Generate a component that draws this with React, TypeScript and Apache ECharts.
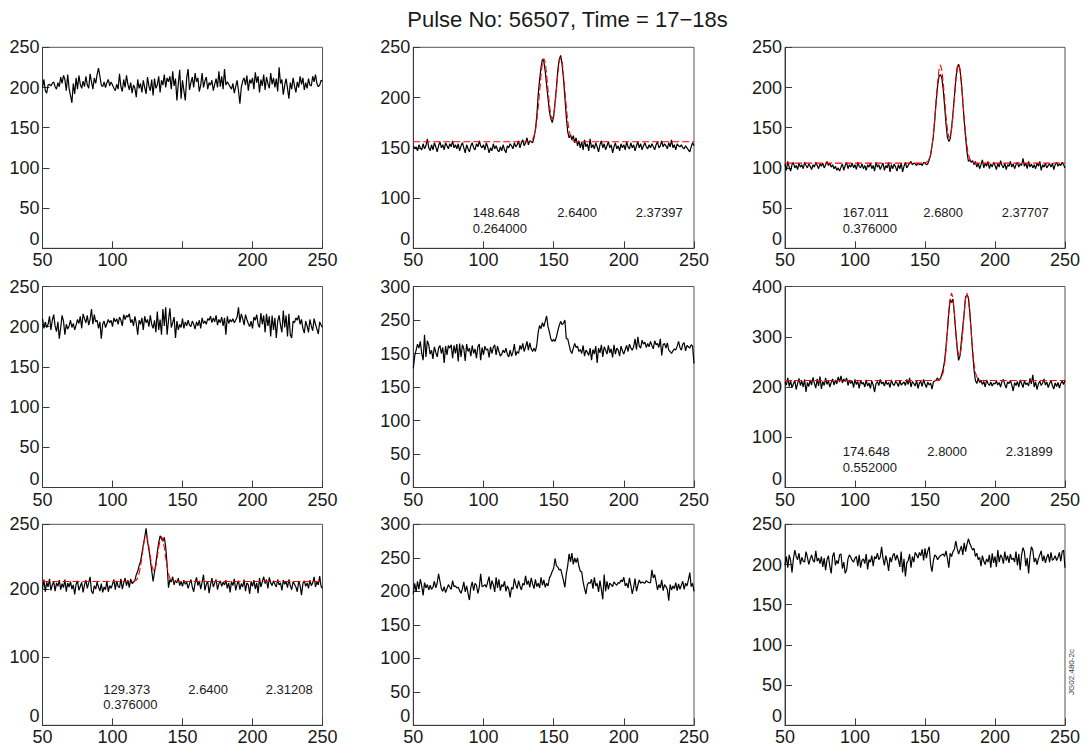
import React, { useEffect, useRef } from 'react';
import * as echarts from 'echarts';

const X_START = 50; // first channel of every trace (one value per channel)

const TITLE = 'Pulse No: 56507, Time = 17\u221218s';

// Row 1, col 1
const traceA = [
  200, 210, 196, 193, 203, 204, 202, 205, 207, 201,
  198, 206, 201, 213, 205, 215, 210, 196, 216, 199,
  190, 181, 205, 192, 212, 198, 215, 204, 199, 208,
  201, 214, 203, 199, 217, 207, 198, 212, 205, 216,
  224, 214, 203, 201, 207, 200, 206, 210, 202, 207,
  203, 199, 196, 204, 198, 217, 201, 195, 210, 200,
  215, 204, 197, 206, 193, 203, 199, 188, 210, 199,
  205, 194, 209, 200, 192, 213, 202, 196, 210, 190,
  211, 199, 203, 214, 194, 209, 203, 216, 200, 212,
  207, 214, 198, 220, 202, 211, 184, 205, 222, 186,
  209, 196, 184, 212, 223, 197, 206, 213, 200, 218,
  207, 212, 195, 203, 218, 200, 208, 213, 198, 206,
  203, 209, 196, 204, 211, 200, 220, 201, 214, 198,
  223, 203, 207, 204, 201, 198, 205, 193, 201, 209,
  196, 180, 200, 208, 212, 203, 215, 196, 210, 205,
  212, 198, 219, 206, 214, 194, 210, 202, 216, 197,
  213, 205, 199, 218, 204, 212, 200, 211, 195, 225,
  205, 210, 191, 203, 211, 199, 186, 206, 198, 212,
  202, 194, 207, 200, 214, 204, 212, 197, 206, 199,
  211, 203, 202, 214, 207, 216, 205, 201, 203, 209,
  208,
];

// Row 1, col 2
const traceB = [
  152, 149, 151, 147, 153, 150, 148, 154, 149, 152,
  159, 150, 147, 153, 148, 155, 151, 146, 152, 156,
  150, 153, 148, 155, 152, 149, 154, 151, 157, 150,
  153, 149, 154, 147, 152, 155, 150, 145, 153, 149,
  146, 152, 155, 150, 148, 154, 151, 157, 152, 150,
  153, 148, 155, 151, 145, 150, 147, 154, 149, 152,
  148, 146, 151, 147, 153, 148, 145, 152, 150, 154,
  152, 149, 155, 151, 153, 157, 150, 155, 158, 152,
  155, 160, 153, 157, 156, 155, 160, 168, 182, 203,
  218, 230, 238, 236, 226, 212, 199, 186, 179, 175,
  181, 195, 210, 228, 238, 242, 233, 219, 200, 181,
  166, 160, 163, 158, 162, 155, 160, 152, 157, 150,
  156, 148, 158, 151, 154, 147, 159, 150, 153, 149,
  155, 151, 146, 153, 157, 150, 154, 148, 152, 156,
  150, 153, 145, 151, 155, 149, 152, 147, 154, 150,
  153, 148, 156, 151, 149, 155, 150, 153, 147, 152,
  156, 150, 154, 148, 152, 155, 151, 149, 153, 150,
  154, 151, 148, 153, 156, 150, 152, 157, 151, 154,
  152, 149, 155, 151, 158, 150, 153, 148, 154, 152,
  151, 153, 150, 149, 152, 150, 148, 146, 151, 155,
  152,
];
const fitBx = [50, 133, 134, 135, 136, 137, 138, 139, 140, 141, 142, 143, 144, 145, 146, 147, 148, 149, 150, 151, 152, 153, 154, 155, 156, 157, 158, 159, 160, 161, 162, 163, 164, 165, 250];
const fitBy = [156, 156, 157, 158, 162, 167, 177, 190, 206, 222, 235, 239, 235, 223, 207, 193, 182, 179, 182, 193, 208, 224, 236, 240, 236, 223, 207, 191, 177, 167, 162, 158, 157, 156, 156];
const notesB = ['148.648', '2.6400', '2.37397', '0.264000'];

// Row 1, col 3
const traceC = [
  105, 97, 108, 101, 96, 104, 107, 100, 103, 98,
  106, 101, 104, 99, 107, 103, 100, 105, 102, 98,
  104, 101, 107, 103, 99, 105, 102, 106, 100, 104,
  108, 103, 106, 101, 104, 99, 102, 97, 100, 96,
  101, 105, 97, 103, 107, 99, 104, 101, 106, 100,
  104, 98, 107, 102, 100, 105, 99, 103, 97, 104,
  101, 106, 99, 103, 96, 107, 101, 104, 98, 102,
  106, 97, 103, 100, 107, 95, 104, 99, 105, 101,
  96, 104, 99, 106, 95, 102, 107, 100, 103, 106,
  108, 104, 106, 105, 103, 106, 104, 105, 103, 107,
  106, 104, 105, 110, 116, 127, 140, 160, 183, 202,
  214, 216, 212, 198, 177, 155, 138, 133, 136, 150,
  168, 189, 210, 225, 229, 222, 205, 182, 158, 138,
  120, 108, 110, 107, 109, 104, 108, 101, 106, 99,
  104, 110, 100, 106, 102, 108, 99, 105, 101, 107,
  103, 98, 106, 101, 109, 103, 100, 106, 98, 104,
  102, 108, 101, 105, 99, 104, 107, 101, 105, 103,
  112, 102, 106, 99, 108, 101, 105, 100, 104, 99,
  106, 102, 108, 97, 104, 101, 106, 100, 103, 105,
  101, 106, 98, 104, 107, 102, 105, 103, 107, 104,
  100,
];
const fitCx = [50, 150, 151, 152, 153, 154, 155, 156, 157, 158, 159, 160, 161, 162, 163, 164, 165, 166, 167, 168, 169, 170, 171, 172, 173, 174, 175, 176, 177, 178, 179, 180, 181, 182, 183, 184, 185, 250];
const fitCy = [106, 106, 107, 108, 111, 117, 127, 142, 162, 185, 206, 222, 228, 222, 207, 186, 164, 148, 138, 138, 148, 165, 186, 208, 223, 229, 223, 207, 185, 162, 142, 127, 117, 111, 108, 107, 106, 106];
const notesC = ['167.011', '2.6800', '2.37707', '0.376000'];

// Row 2, col 1
const traceD = [
  210, 198, 206, 199, 203, 213, 196, 208, 215, 201,
  194, 206, 185, 199, 214, 207, 190, 203, 197, 201,
  208, 199, 204, 196, 202, 209, 204, 213, 198, 216,
  210, 205, 214, 202, 209, 222, 203, 215, 206, 208,
  198, 206, 185, 203, 207, 199, 204, 209, 205, 208,
  200, 211, 206, 210, 203, 212, 208, 201, 215, 209,
  214, 212, 216, 205, 209, 201, 213, 204, 190, 208,
  203, 211, 196, 213, 205, 209, 200, 214, 203, 198,
  208, 193, 219, 196, 209, 190, 222, 201, 224, 190,
  208, 223, 199, 205, 212, 186, 207, 196, 203, 199,
  210, 198, 206, 201, 208, 202, 200, 207, 203, 197,
  206, 201, 208, 198, 211, 204, 207, 203, 210, 208,
  213, 205, 211, 206, 214, 202, 209, 205, 212, 201,
  211, 190, 213, 204, 209, 206, 210, 205, 208, 212,
  224, 205, 216, 210, 202, 215, 209, 204, 200, 207,
  198, 212, 208, 215, 203, 199, 217, 203, 214, 193,
  216, 201, 213, 188, 214, 196, 211, 186, 207, 214,
  202, 193, 220, 199, 214, 188, 216, 190, 186, 207,
  205, 211, 208, 214, 203, 209, 198, 192, 207, 201,
  193, 209, 201, 195, 210, 203, 197, 191, 206, 202,
  199,
];

// Row 2, col 2
const traceE = [
  178, 196, 205, 214, 208, 218, 200, 190, 228, 195,
  219, 213, 199, 205, 192, 210, 202, 195, 208, 212,
  200, 209, 186, 211, 198, 212, 208, 213, 193, 212,
  200, 214, 188, 215, 195, 213, 207, 189, 214, 203,
  208, 196, 212, 200, 207, 193, 210, 214, 190, 209,
  198, 211, 205, 207, 194, 210, 200, 209, 213, 198,
  211, 203, 196, 199, 205, 201, 208, 199, 195, 205,
  196, 202, 214, 197, 203, 200, 212, 206, 215, 203,
  210, 218, 205, 216, 207, 203, 208, 203, 213, 232,
  242, 237, 246, 240, 248, 256, 240, 232, 222, 218,
  221, 218, 225, 234, 242, 248, 243, 245, 250, 222,
  222, 213, 204, 200, 208, 215, 209, 211, 203, 206,
  200, 212, 196, 205, 202, 197, 208, 190, 206, 199,
  211, 186, 208, 201, 213, 195, 210, 205, 199, 212,
  201, 207, 194, 213, 199, 208, 205, 196, 211, 204,
  199, 206, 212, 203, 214, 208, 205, 210, 222, 206,
  225, 211, 208, 220, 214, 217, 209, 215, 210, 218,
  212, 207, 219, 213, 215, 209, 222, 197, 213, 215,
  208, 216, 205, 203, 200, 204, 207, 205, 211, 218,
  209, 205, 214, 216, 204, 212, 210, 208, 213, 211,
  185,
];

// Row 2, col 3
const traceF = [
  210, 204, 218, 201, 212, 199, 206, 213, 195, 207,
  217, 203, 212, 200, 215, 190, 209, 201, 214, 204,
  219, 207, 198, 216, 202, 221, 196, 211, 203, 218,
  205, 213, 200, 209, 216, 204, 214, 206, 220, 210,
  222, 208, 216, 211, 218, 203, 214, 207, 212, 199,
  215, 205, 211, 197, 213, 206, 209, 200, 214, 202,
  208, 197, 212, 204, 190, 207, 211, 203, 215, 206,
  210, 202, 212, 205, 209, 199, 214, 206, 203, 211,
  208, 201, 213, 204, 207, 210, 203, 215, 205, 218,
  200, 211, 207, 202, 213, 197, 208, 211, 201, 215,
  206, 199, 210, 204, 208, 196, 210, 212, 214, 218,
  213, 217, 225, 236, 252, 280, 312, 350, 374, 368,
  375, 345, 308, 276, 253, 262, 292, 320, 348, 380,
  383, 378, 350, 312, 270, 235, 213, 207, 218, 209,
  213, 205, 211, 200, 214, 207, 203, 210, 202, 208,
  206, 212, 204, 209, 200, 211, 215, 205, 198, 210,
  207, 213, 204, 192, 209, 203, 211, 200, 214, 207,
  199, 212, 205, 208, 202, 217, 206, 224, 200, 210,
  195, 206, 212, 203, 208, 216, 204, 210, 199, 207,
  213, 203, 196, 208, 201, 209, 198, 207, 212, 205,
  214,
];
const fitFx = [50, 159, 160, 161, 162, 163, 164, 165, 166, 167, 168, 169, 170, 171, 172, 173, 174, 175, 176, 177, 178, 179, 180, 181, 182, 183, 184, 185, 186, 187, 188, 189, 190, 250];
const fitFy = [213, 213, 214, 216, 220, 229, 246, 273, 309, 347, 376, 387, 376, 347, 311, 280, 262, 262, 280, 311, 347, 376, 387, 376, 347, 309, 273, 246, 229, 220, 216, 214, 213, 213];
const notesF = ['174.648', '2.8000', '2.31899', '0.552000'];

// Row 3, col 1
const traceG = [
  200, 214, 196, 210, 203, 215, 198, 206, 211, 197,
  209, 204, 213, 199, 208, 202, 214, 196, 209, 203,
  211, 200, 206, 192, 207, 212, 198, 204, 210, 195,
  206, 213, 201, 209, 218, 197, 193, 205, 200, 210,
  203, 197, 208, 195, 203, 199, 212, 196, 205, 201,
  207, 214, 199, 212, 204, 202, 215, 200, 209, 216,
  205, 213, 202, 215, 208, 210, 213, 221, 226, 234,
  240, 252, 265, 276, 289, 270, 258, 243, 227, 211,
  225, 238, 254, 268, 278, 274, 270, 276, 262, 236,
  202, 214, 210, 218, 206, 213, 209, 216, 205, 211,
  204, 213, 207, 210, 201, 208, 214, 203, 196, 209,
  217, 205, 212, 200, 210, 221, 198, 207, 211, 194,
  206, 216, 203, 209, 214, 199, 208, 212, 204, 210,
  206, 213, 201, 209, 195, 211, 205, 215, 198, 207,
  212, 199, 208, 203, 214, 197, 209, 206, 193, 211,
  204, 213, 200, 209, 194, 216, 203, 211, 218, 208,
  214, 201, 217, 209, 205, 212, 207, 203, 214, 206,
  209, 198, 213, 207, 211, 202, 214, 205, 199, 211,
  207, 203, 196, 212, 205, 191, 208, 212, 204, 209,
  201, 213, 205, 209, 218, 203, 211, 206, 219, 204,
  201,
];
const fitGx = [50, 114, 115, 116, 117, 118, 119, 120, 121, 122, 123, 124, 125, 126, 127, 128, 129, 130, 131, 132, 133, 134, 135, 136, 137, 138, 139, 140, 141, 142, 143, 144, 250];
const fitGy = [211, 211, 211, 212, 213, 216, 223, 233, 247, 262, 274, 279, 274, 262, 248, 235, 228, 227, 234, 247, 261, 272, 277, 272, 261, 246, 232, 222, 216, 213, 212, 211, 211];
const notesG = ['129.373', '2.6400', '2.31208', '0.376000'];

// Row 3, col 2
const traceH = [
  196, 212, 199, 215, 203, 218, 208, 194, 213, 205,
  210, 202, 209, 203, 206, 215, 205, 212, 226, 215,
  204, 200, 207, 198, 204, 210, 206, 203, 216, 207,
  208, 205, 206, 201, 197, 204, 214, 199, 208, 197,
  187, 206, 214, 201, 212, 209, 197, 206, 226, 207,
  208, 210, 206, 214, 222, 203, 216, 210, 199, 221,
  205, 218, 201, 210, 207, 215, 200, 208, 203, 191,
  206, 203, 219, 210, 204, 216, 208, 202, 212, 209,
  223, 210, 216, 206, 220, 211, 204, 218, 207, 212,
  205, 221, 209, 217, 206, 212, 208, 220, 224, 230,
  234, 249, 238, 236, 232, 233, 225, 216, 206, 226,
  238, 256, 244, 257, 240, 250, 243, 250, 237, 230,
  229, 214, 204, 196, 210, 213, 212, 218, 204, 221,
  208, 212, 199, 216, 203, 188, 225, 200, 215, 203,
  212, 210, 207, 214, 211, 209, 213, 212, 217, 214,
  221, 208, 212, 205, 220, 209, 196, 206, 219, 200,
  209, 217, 212, 214, 213, 212, 216, 214, 213, 213,
  232, 220, 225, 214, 202, 210, 205, 217, 201, 210,
  207, 203, 186, 210, 202, 208, 204, 213, 201, 211,
  203, 209, 215, 203, 212, 208, 217, 228, 207, 212,
  200,
];

// Row 3, col 3
const traceI = [
  199, 210, 196, 212, 205, 190, 207, 218, 210, 206,
  214, 200, 209, 204, 203, 216, 209, 200, 207, 212,
  205, 203, 217, 204, 208, 201, 210, 197, 208, 193,
  206, 211, 198, 189, 210, 215, 199, 205, 201, 212,
  213, 195, 203, 189, 193, 207, 212, 209, 205, 203,
  208, 210, 198, 212, 196, 205, 207, 201, 213, 194,
  206, 203, 211, 198, 210, 207, 214, 206, 209, 222,
  208, 199, 211, 204, 192, 209, 203, 211, 214, 205,
  212, 206, 197, 216, 190, 207, 185, 202, 205, 213,
  196, 210, 203, 215, 212, 208, 215, 211, 219, 205,
  220, 208, 217, 222, 200, 191, 205, 212, 210, 206,
  209, 211, 212, 213, 210, 217, 208, 196, 214, 210,
  216, 219, 229, 220, 213, 218, 223, 212, 227, 216,
  225, 232, 226, 222, 218, 220, 210, 214, 206, 209,
  198, 211, 204, 200, 207, 203, 212, 196, 214, 202,
  210, 197, 218, 203, 212, 209, 201, 216, 205, 211,
  202, 213, 206, 208, 203, 216, 199, 213, 193, 212,
  221, 216, 198, 208, 189, 210, 222, 218, 203, 208,
  200, 207, 212, 217, 204, 211, 202, 209, 213, 203,
  215, 205, 207, 211, 205, 209, 215, 204, 216, 218,
  196,
];

const STAMP = 'JG02.480-2c';

const FONT = '"Liberation Sans", Arial, Helvetica, sans-serif';
const INK = '#1a1a1a';
const AXIS = '#3a3a3a';

const COL_LEFT = [42.5, 413.3, 785];
const COL_W = [280, 280.7, 280];
const ROW_TOP = [47.3, 286.5, 524.3];
const ROW_H = 201;

type Panel = {
  trace: number[];
  fitX?: number[];
  fitY?: number[];
  notes?: string[];
  notePos?: { x: number[]; y: number[] };
  y: any;
  xFmt?: (v: number) => string;
};

const toPairs = (ys: number[]) => ys.map((y, i) => [X_START + i, y]);
const zip = (xs: number[], ys: number[]) => xs.map((x, i) => [x, ys[i]]);

export default function App() {
  const ref = useRef<HTMLDivElement>(null);
  useEffect(() => {
    if (!ref.current) return;
    const chart = echarts.init(ref.current, null, { renderer: 'svg' });

    const panels: Panel[] = [
      { trace: traceA, y: { min: 0, max: 250, interval: 50 }, xFmt: (v) => (v === 150 ? '' : String(v)) },
      {
        trace: traceB, fitX: fitBx, fitY: fitBy, notes: notesB,
        notePos: { x: [472.7, 557.3, 635.7, 472.7], y: [212.7, 212.7, 212.7, 228.7] },
        y: { min: 50, max: 250, interval: 50, fmt: (v: number) => (v === 50 ? '0' : String(v)) },
      },
      {
        trace: traceC, fitX: fitCx, fitY: fitCy, notes: notesC,
        notePos: { x: [842.7, 923.3, 1001.7, 842.7], y: [212.7, 212.7, 212.7, 228.7] },
        y: { min: 0, max: 250, interval: 50 },
      },
      { trace: traceD, y: { min: 0, max: 250, interval: 50 } },
      { trace: traceE, y: { min: 0, max: 300, interval: 50, fmt: (v: number) => (v === 200 ? '150' : String(v)) } },
      {
        trace: traceF, fitX: fitFx, fitY: fitFy, notes: notesF,
        notePos: { x: [842.7, 927.3, 1005.7, 842.7], y: [451.7, 451.7, 451.7, 467.3] },
        y: { min: 0, max: 400, interval: 100 },
      },
      {
        trace: traceG, fitX: fitGx, fitY: fitGy, notes: notesG,
        notePos: { x: [103.3, 188.3, 265.7, 103.3], y: [689, 689, 689, 704.3] },
        y: { min: 0, max: 295, custom: [0, 100, 200, 295], fmt: (v: number) => (v === 295 ? '250' : String(v)) },
      },
      { trace: traceH, y: { min: 0, max: 300, interval: 50 } },
      { trace: traceI, y: { min: 0, max: 250, interval: 50 } },
    ];

    const grid: any[] = [];
    const xAxis: any[] = [];
    const yAxis: any[] = [];
    const series: any[] = [];
    const graphic: any[] = [];

    panels.forEach((p, i) => {
      const r = Math.floor(i / 3);
      const c = i % 3;
      grid.push({
        left: COL_LEFT[c], top: ROW_TOP[r], width: COL_W[c], height: ROW_H,
        show: true, borderColor: '#555', borderWidth: 1, backgroundColor: 'transparent',
      });
      xAxis.push({
        type: 'value', gridIndex: i, min: 50, max: 250, interval: 50,
        axisLine: { show: true, onZero: false, lineStyle: { color: AXIS, width: 1 } },
        axisTick: { show: true, inside: true, length: 7, lineStyle: { color: AXIS } },
        axisLabel: {
          show: true, fontSize: 18, fontFamily: FONT, color: INK, margin: 3,
          showMinLabel: true, showMaxLabel: true,
          formatter: p.xFmt ? p.xFmt : (v: number) => String(v),
        },
        splitLine: { show: false },
      });
      const y = p.y;
      const yl: any = {
        show: true, fontSize: 18, fontFamily: FONT, color: INK, margin: 3,
        showMinLabel: true, showMaxLabel: true,
        verticalAlignMinLabel: 'bottom',
        formatter: y.fmt ? y.fmt : (v: number) => String(v),
      };
      const yt: any = { show: true, inside: true, length: 7, lineStyle: { color: AXIS } };
      if (y.custom) {
        yl.customValues = y.custom;
        yt.customValues = y.custom;
      }
      yAxis.push({
        type: 'value', gridIndex: i, min: y.min, max: y.max,
        ...(y.interval ? { interval: y.interval } : {}),
        axisLine: { show: true, lineStyle: { color: AXIS, width: 1 } },
        axisTick: yt,
        axisLabel: yl,
        splitLine: { show: false },
      });
      series.push({
        type: 'line', xAxisIndex: i, yAxisIndex: i, data: toPairs(p.trace),
        showSymbol: false, symbol: 'none', lineStyle: { color: '#000', width: 1.2 }, z: 2,
        silent: true,
      });
      if (p.fitX && p.fitY) {
        series.push({
          type: 'line', xAxisIndex: i, yAxisIndex: i, data: zip(p.fitX, p.fitY),
          showSymbol: false, symbol: 'none', lineStyle: { color: '#ff0000', width: 1.1, type: [7, 3] }, z: 3,
          silent: true,
        });
      }
      if (p.notes && p.notePos) {
        p.notes.forEach((t, k) => {
          graphic.push({
            type: 'text', x: p.notePos!.x[k], y: p.notePos!.y[k],
            style: { text: t, fontSize: 13, fontFamily: FONT, fill: INK, textAlign: 'left', textVerticalAlign: 'middle' },
          });
        });
      }
    });

    graphic.push({
      type: 'text', x: 567.5, y: 19,
      style: { text: TITLE, fontSize: 22, fontFamily: FONT, fill: INK, textAlign: 'center', textVerticalAlign: 'middle' },
    });
    graphic.push({
      type: 'text', x: 1071, y: 672, rotation: Math.PI / 2,
      style: { text: STAMP, fontSize: 8, fontFamily: FONT, fill: '#333', textAlign: 'center', textVerticalAlign: 'middle' },
    });

    chart.setOption({
      animation: false,
      backgroundColor: '#ffffff',
      grid, xAxis, yAxis, series, graphic,
    });
    return () => chart.dispose();
  }, []);

  return <div ref={ref} style={{ position: 'absolute', left: 0, top: 0, width: 1088, height: 749 }} />;
}
